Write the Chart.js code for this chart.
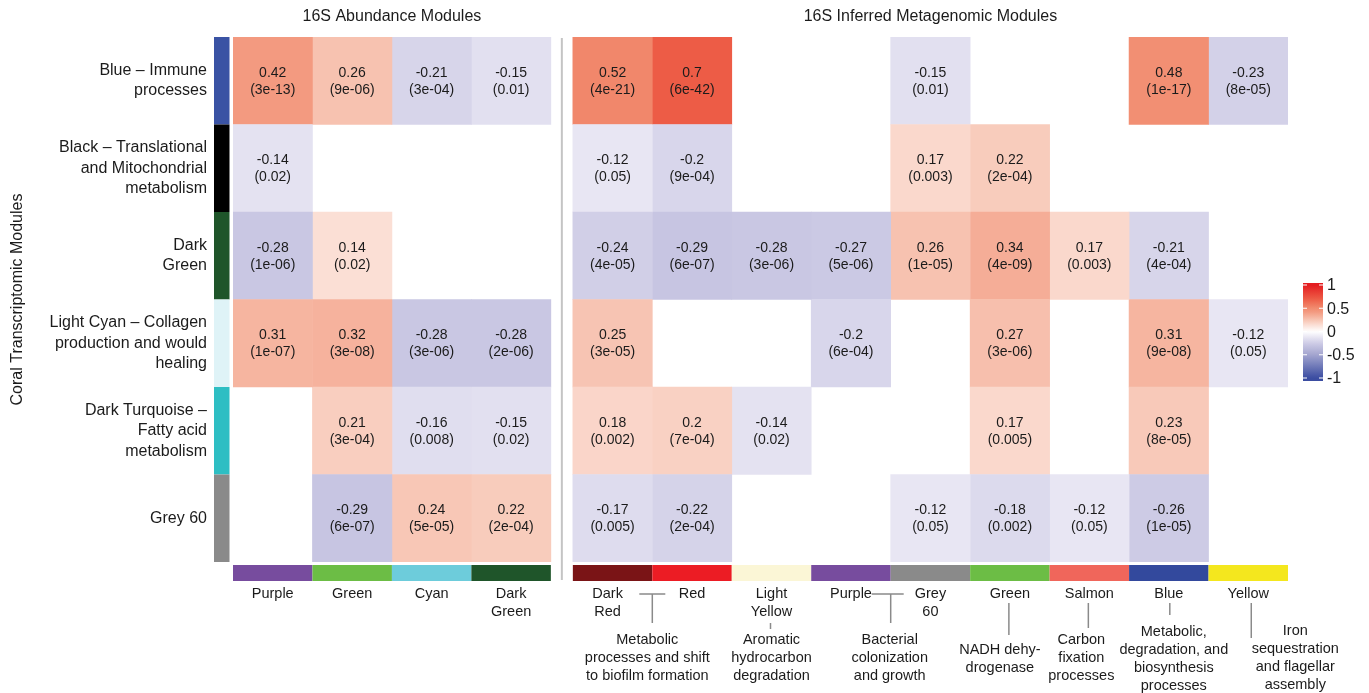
<!DOCTYPE html>
<html>
<head>
<meta charset="utf-8">
<script src="https://cdn.jsdelivr.net/npm/chart.js@4/dist/chart.umd.min.js"></script>
<style>
  html, body { margin: 0; padding: 0; background: #fff; overflow: hidden; }
  #wrap { position: relative; width: 1369px; height: 693px; }
</style>
</head>
<body>
<div id="wrap"><canvas id="c" width="1369" height="693"></canvas></div>
<script>
// ---- Coral transcriptomic modules (rows) ----
const rowNames = [
  'Blue \u2013 Immune\nprocesses',
  'Black \u2013 Translational\nand Mitochondrial\nmetabolism',
  'Dark\nGreen',
  'Light Cyan \u2013 Collagen\nproduction and would\nhealing',
  'Dark Turquoise \u2013\nFatty acid\nmetabolism',
  'Grey 60'
];
const rowColors = ['#3A53A4', '#000000', '#1F552A', '#DFF3F7', '#2EBEC3', '#8A8A8A'];

// ---- 16S abundance modules (left block columns) ----
const abundanceCols = ['Purple', 'Green', 'Cyan', 'Dark\nGreen'];
const abundanceColColors = ['#774C9E', '#6CBD45', '#6DCCDB', '#1F552A'];
const abundanceR = [
  [0.42, 0.26, -0.21, -0.15],
  [-0.14, null, null, null],
  [-0.28, 0.14, null, null],
  [0.31, 0.32, -0.28, -0.28],
  [null, 0.21, -0.16, -0.15],
  [null, -0.29, 0.24, 0.22]
];
const abundanceP = [
  ['3e-13', '9e-06', '3e-04', '0.01'],
  ['0.02', null, null, null],
  ['1e-06', '0.02', null, null],
  ['1e-07', '3e-08', '3e-06', '2e-06'],
  [null, '3e-04', '0.008', '0.02'],
  [null, '6e-07', '5e-05', '2e-04']
];

// ---- 16S inferred metagenomic modules (right block columns) ----
const metaCols = ['Dark\nRed', 'Red', 'Light\nYellow', 'Purple', 'Grey\n60', 'Green', 'Salmon', 'Blue', 'Yellow'];
const metaColColors = ['#7A1416', '#EC1C24', '#FBF6D6', '#774C9E', '#8A8A8A', '#6CBD45', '#F0665B', '#33499D', '#F4E71E'];
const metaR = [
  [0.52, 0.7, null, null, -0.15, null, null, 0.48, -0.23],
  [-0.12, -0.2, null, null, 0.17, 0.22, null, null, null],
  [-0.24, -0.29, -0.28, -0.27, 0.26, 0.34, 0.17, -0.21, null],
  [0.25, null, null, -0.2, null, 0.27, null, 0.31, -0.12],
  [0.18, 0.2, -0.14, null, null, 0.17, null, 0.23, null],
  [-0.17, -0.22, null, null, -0.12, -0.18, -0.12, -0.26, null]
];
const metaP = [
  ['4e-21', '6e-42', null, null, '0.01', null, null, '1e-17', '8e-05'],
  ['0.05', '9e-04', null, null, '0.003', '2e-04', null, null, null],
  ['4e-05', '6e-07', '3e-06', '5e-06', '1e-05', '4e-09', '0.003', '4e-04', null],
  ['3e-05', null, null, '6e-04', null, '3e-06', null, '9e-08', '0.05'],
  ['0.002', '7e-04', '0.02', null, null, '0.005', null, '8e-05', null],
  ['0.005', '2e-04', null, null, '0.05', '0.002', '0.05', '1e-05', null]
];

// Functional annotations under the metagenomic columns
const metaNotes = [
  { cols: [0, 1], text: 'Metabolic\nprocesses and shift\nto biofilm formation' },
  { cols: [2], text: 'Aromatic\nhydrocarbon\ndegradation' },
  { cols: [3, 4], text: 'Bacterial\ncolonization\nand growth' },
  { cols: [5], text: 'NADH dehy-\ndrogenase' },
  { cols: [6], text: 'Carbon\nfixation\nprocesses' },
  { cols: [7], text: 'Metabolic,\ndegradation, and\nbiosynthesis\nprocesses' },
  { cols: [8], text: 'Iron\nsequestration\nand flagellar\nassembly' }
];

const legendTicks = [1, 0.5, 0, -0.5, -1];

// ---- layout / style ----
const FONT = "'Liberation Sans', Arial, Helvetica, sans-serif";
const TEXT = '#1b1b1b';
const GAP = 22 / 79.46;              // space between the two blocks, in column units
const NA = abundanceCols.length;
const NM = metaCols.length;
const XMAX = NA + GAP + NM;

// diverging palette, white at 0
const POS_STOPS = [[0, 255, 255, 255], [0.14, 251, 223, 213], [0.26, 247, 194, 176], [0.34, 245, 173, 151],
  [0.42, 243, 154, 128], [0.52, 241, 135, 107], [0.7, 237, 92, 70], [1, 228, 28, 32]];
const NEG_STOPS = [[0, 255, 255, 255], [0.14, 228, 226, 241], [0.28, 201, 199, 227], [0.5, 163, 165, 207], [1, 59, 77, 161]];
function corrColor(v) {
  const stops = v >= 0 ? POS_STOPS : NEG_STOPS;
  const a = Math.min(Math.abs(v), 1);
  for (let i = 1; i < stops.length; i++) {
    if (a <= stops[i][0]) {
      const s0 = stops[i - 1], s1 = stops[i];
      const t = (a - s0[0]) / (s1[0] - s0[0]);
      const c = [1, 2, 3].map(k => Math.round(s0[k] + (s1[k] - s0[k]) * t));
      return `rgb(${c[0]},${c[1]},${c[2]})`;
    }
  }
  const l = stops[stops.length - 1];
  return `rgb(${l[1]},${l[2]},${l[3]})`;
}

// one floating-bar dataset per column; each bar spans its column on the x axis
const columns = [];
abundanceCols.forEach((name, j) => columns.push({ name, color: abundanceColColors[j], x0: j, R: abundanceR, P: abundanceP, j }));
metaCols.forEach((name, j) => columns.push({ name, color: metaColColors[j], x0: NA + GAP + j, R: metaR, P: metaP, j }));

const datasets = columns.map(col => ({
  label: col.name,
  data: rowNames.map((_, i) => col.R[i][col.j] == null ? null : [col.x0, col.x0 + 1]),
  backgroundColor: rowNames.map((_, i) => col.R[i][col.j] == null ? 'rgba(0,0,0,0)' : corrColor(col.R[i][col.j])),
  borderWidth: 0,
  barPercentage: 1,
  categoryPercentage: 1,
  grouped: false
}));

function multiline(ctx, text, x, yc, lh) {
  const lines = text.split('\n');
  const y0 = yc - (lines.length - 1) * lh / 2;
  lines.forEach((ln, k) => ctx.fillText(ln, x, y0 + k * lh));
}

const whiteBg = {
  id: 'whiteBg',
  beforeDraw(chart) {
    const ctx = chart.ctx;
    ctx.save();
    ctx.fillStyle = '#fff';
    ctx.fillRect(0, 0, chart.width, chart.height);
    ctx.restore();
  }
};

const cellLabels = {
  id: 'cellLabels',
  afterDatasetsDraw(chart) {
    const ctx = chart.ctx;
    ctx.save();
    ctx.fillStyle = TEXT;
    ctx.font = `14px ${FONT}`;
    ctx.textAlign = 'center';
    ctx.textBaseline = 'middle';
    chart.data.datasets.forEach((ds, d) => {
      const col = columns[d];
      chart.getDatasetMeta(d).data.forEach((el, i) => {
        const r = col.R[i][col.j];
        if (r == null) return;
        const c = el.getCenterPoint();
        ctx.fillText(String(r), c.x, c.y - 8);
        ctx.fillText('(' + col.P[i][col.j] + ')', c.x, c.y + 9);
      });
    });
    ctx.restore();
  }
};

const decorations = {
  id: 'decorations',
  afterDraw(chart) {
    const ctx = chart.ctx;
    const xs = chart.scales.x, ys = chart.scales.y;
    const area = chart.chartArea;
    const rowH = (area.bottom - area.top) / rowNames.length;
    const px = v => xs.getPixelForValue(v);
    ctx.save();

    // module colour strip beside the rows
    rowNames.forEach((_, i) => {
      const yc = ys.getPixelForValue(i);
      ctx.fillStyle = rowColors[i];
      ctx.fillRect(area.left - 19, yc - rowH / 2, 15.5, rowH);
    });
    // module colour strip under the columns
    const stripTop = area.bottom + 3;
    columns.forEach(col => {
      ctx.fillStyle = col.color;
      ctx.fillRect(px(col.x0), stripTop, px(col.x0 + 1) - px(col.x0), 16);
    });

    // separator between the two blocks
    const sepX = px(NA + GAP / 2);
    ctx.strokeStyle = '#c4c4c4';
    ctx.lineWidth = 2;
    ctx.beginPath();
    ctx.moveTo(sepX, area.top + 1);
    ctx.lineTo(sepX, stripTop + 15);
    ctx.stroke();

    // block titles
    ctx.fillStyle = TEXT;
    ctx.textAlign = 'center';
    ctx.textBaseline = 'middle';
    ctx.font = `16px ${FONT}`;
    ctx.fillText('16S Abundance Modules', (px(0) + px(NA)) / 2, 17);
    ctx.fillText('16S Inferred Metagenomic Modules', (px(NA + GAP) + px(XMAX)) / 2, 17);

    // row labels
    ctx.textAlign = 'right';
    ctx.font = `16px ${FONT}`;
    rowNames.forEach((name, i) => multiline(ctx, name, area.left - 26, ys.getPixelForValue(i), 20.5));

    // y title
    ctx.save();
    ctx.translate(18, (area.top + area.bottom) / 2);
    ctx.rotate(-Math.PI / 2);
    ctx.textAlign = 'center';
    ctx.fillText('Coral Transcriptomic Modules', 0, 0);
    ctx.restore();

    // column labels
    ctx.textAlign = 'center';
    ctx.font = `14.5px ${FONT}`;
    const labY = stripTop + 29;
    columns.forEach((col, k) => {
      let cx = px(col.x0 + 0.5);
      if (k === NA) cx -= 5;
      multiline(ctx, col.name, cx, labY + 9 * (col.name.split('\n').length - 1), 18);
    });

    // annotation connectors and texts
    ctx.strokeStyle = '#8a8a8a';
    ctx.lineWidth = 1.5;
    const line = (x1, y1, x2, y2) => { ctx.beginPath(); ctx.moveTo(x1, y1); ctx.lineTo(x2, y2); ctx.stroke(); };
    const base = NA + GAP;
    metaNotes.forEach((n, k) => {
      if (n.cols.length === 2) {
        const bx = px(base + n.cols[1]);
        const left = k === 0 ? 13 : 19;
        line(bx - left, labY, bx + 13, labY);
        line(bx, labY, bx, labY + 29);
        multiline(ctx, n.text, bx - (k === 0 ? 5 : 1), 658, 18);
      } else {
        const c = n.cols[0];
        const cx = px(base + c + 0.5);
        if (c === 2) { line(cx - 1, 623, cx - 1, 629); multiline(ctx, n.text, cx, 658, 18); }
        if (c === 5) { line(cx - 1, 603, cx - 1, 635); multiline(ctx, n.text, cx - 10, 659, 18); }
        if (c === 6) { line(cx - 1, 603, cx - 1, 628); multiline(ctx, n.text, cx - 8, 658, 18); }
        if (c === 7) { line(cx + 1, 603, cx + 1, 615); multiline(ctx, n.text, cx + 5, 659, 18); }
        if (c === 8) { line(cx + 3, 603, cx + 3, 638); multiline(ctx, n.text, cx + 47, 658, 18); }
      }
    });

    // colour key
    const kx = 1303, kw = 20, kTop = 283, kBot = 381, kMid = 331.5, kScale = 46.5;
    const grad = ctx.createLinearGradient(0, kTop, 0, kBot);
    for (let s = 0; s <= 40; s++) {
      const yy = kTop + (kBot - kTop) * s / 40;
      const v = (kMid - yy) / kScale;
      grad.addColorStop(s / 40, corrColor(Math.max(-1, Math.min(1, v))));
    }
    ctx.fillStyle = grad;
    ctx.fillRect(kx, kTop, kw, kBot - kTop);
    ctx.strokeStyle = '#ffffff';
    ctx.lineWidth = 1;
    ctx.textAlign = 'left';
    ctx.font = `16px ${FONT}`;
    ctx.fillStyle = TEXT;
    legendTicks.forEach(t => {
      const ty = kMid - t * kScale;
      line(kx, ty, kx + 4, ty);
      line(kx + kw - 4, ty, kx + kw, ty);
      ctx.fillText(String(t), kx + 24, ty + 1);
    });

    ctx.restore();
  }
};

new Chart(document.getElementById('c'), {
  type: 'bar',
  data: { labels: rowNames, datasets },
  options: {
    indexAxis: 'y',
    responsive: false,
    animation: false,
    devicePixelRatio: 1,
    layout: { padding: { left: 233, right: 81, top: 37, bottom: 131 } },
    scales: {
      x: { type: 'linear', min: 0, max: XMAX, display: false },
      y: { type: 'category', display: false, offset: true }
    },
    plugins: { legend: { display: false }, tooltip: { enabled: false } }
  },
  plugins: [whiteBg, cellLabels, decorations]
});
</script>
</body>
</html>
